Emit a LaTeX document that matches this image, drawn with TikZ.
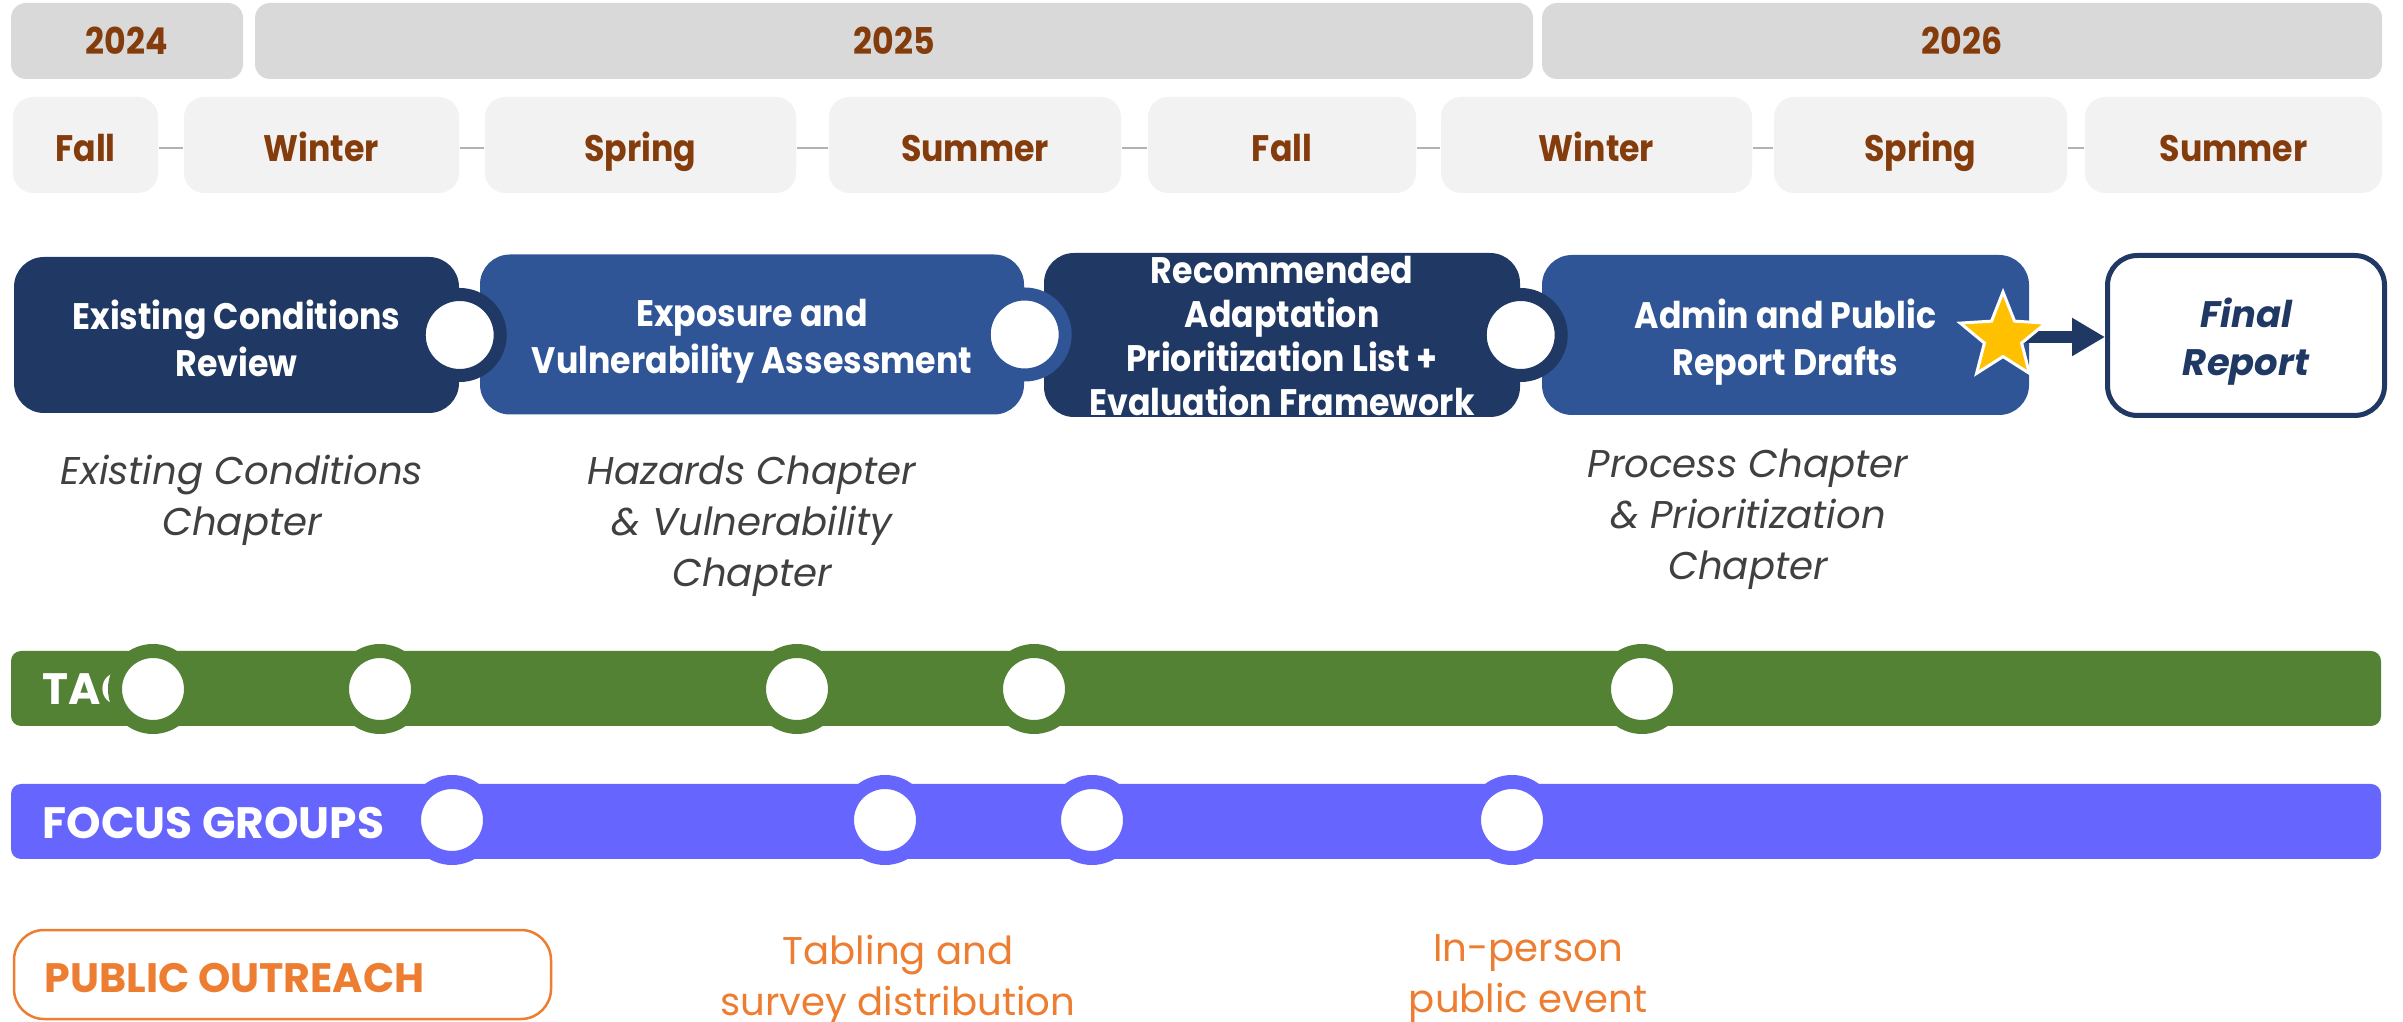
\documentclass[tikz,border=0pt]{standalone}
\usepackage{fontspec}
\setmainfont{Poppins}
\newfontfamily\narrowfont{Poppins}[FakeStretch=0.9]
\usetikzlibrary{shapes.geometric}
\usetikzlibrary{arrows.meta}
\definecolor{yeargray}{RGB}{217,217,217}
\definecolor{seasongray}{RGB}{242,242,242}
\definecolor{seasonbrown}{RGB}{132,60,12}
\definecolor{darknavy}{RGB}{32,56,100}
\definecolor{midblue}{RGB}{47,85,151}
\definecolor{chaptergray}{RGB}{64,64,64}
\definecolor{tacgreen}{RGB}{84,130,53}
\definecolor{focusblue}{RGB}{102,102,255}
\definecolor{outreachorange}{RGB}{237,125,49}
\definecolor{stargold}{RGB}{255,192,0}

\tikzset{
  yearbox/.style={fill=yeargray, rounded corners=1.5mm, minimum height=7.6mm,
    inner sep=0pt, text height=2.7mm, text depth=0pt, text=seasonbrown,
    font=\narrowfont\bfseries\fontsize{10.5}{12}\selectfont},
  seasonbox/.style={fill=seasongray, rounded corners=2mm, minimum height=9.6mm,
    inner sep=0pt, text height=3.3mm, text depth=0pt, text=seasonbrown,
    font=\narrowfont\bfseries\fontsize{10.5}{12}\selectfont},
  seasonline/.style={draw=black!30, line width=0.25mm},
  phasebox/.style={rounded corners=3mm, minimum height=16mm, inner sep=0pt},
  phasetxt/.style={text=white, align=center, inner sep=0pt,
    font=\narrowfont\bfseries\fontsize{10.5}{13.4}\selectfont},
  joint/.style={circle, draw=#1, fill=white, line width=1.3mm, minimum size=8.1mm, inner sep=0pt},
  chaptertxt/.style={text=chaptergray, align=center, font=\itshape\fontsize{11}{14.5}\selectfont},
  trackbar/.style={fill=#1, rounded corners=1mm, minimum width=237mm, minimum height=7.5mm, inner sep=0pt},
  tracklabel/.style={anchor=west, inner sep=0pt, text=white, font=\bfseries\fontsize{12.5}{15}\selectfont},
  milestone/.style={circle, draw=#1, fill=white, line width=1.4mm, minimum size=7.6mm, inner sep=0pt},
  outreachtxt/.style={text=outreachorange, align=center, font=\fontsize{11}{14.5}\selectfont}
}

\begin{document}
\begin{tikzpicture}[x=0.1mm,y=-0.1mm]
  \useasboundingbox (0,0) rectangle (2403,1022);

  % Years
  \node[yearbox, minimum width=23.2mm] (y2024) at (127,41) {2024};
  \node[yearbox, minimum width=127.8mm] (y2025) at (894,41) {2025};
  \node[yearbox, minimum width=84.0mm] (y2026) at (1962,41) {2026};

  % Seasons
  \node[seasonbox, minimum width=14.5mm] (fall24) at (85.5,145) {Fall};
  \node[seasonbox, minimum width=27.5mm] (win25) at (321.5,145) {Winter};
  \node[seasonbox, minimum width=31.1mm] (spr25) at (640.5,145) {Spring};
  \node[seasonbox, minimum width=29.2mm] (sum25) at (975,145) {Summer};
  \node[seasonbox, minimum width=26.8mm] (fall25) at (1282,145) {Fall};
  \node[seasonbox, minimum width=31.1mm] (win26) at (1596.5,145) {Winter};
  \node[seasonbox, minimum width=29.3mm] (spr26) at (1920.5,145) {Spring};
  \node[seasonbox, minimum width=29.7mm] (sum26) at (2233.5,145) {Summer};
  \foreach \a/\b in {fall24/win25, win25/spr25, spr25/sum25, sum25/fall25,
                     fall25/win26, win26/spr26, spr26/sum26}
    \draw[seasonline] ([yshift=-0.3mm]\a.east) -- ([yshift=-0.3mm]\b.west);

  % Phases
  \node[phasebox, fill=darknavy, minimum width=44.5mm, minimum height=15.6mm] (review) at (236.5,335) {};
  \node[phasebox, fill=midblue, minimum width=54.4mm] (exposure) at (752,334.5) {};
  \node[phasebox, fill=darknavy, minimum width=47.6mm, minimum height=16.4mm] (adaptation) at (1282,335) {};
  \node[phasebox, fill=midblue, minimum width=48.7mm] (drafts) at (1785.5,335) {};
  \node[phasebox, draw=darknavy, fill=white, line width=0.5mm, minimum width=27.7mm,
        minimum height=16mm] (final) at (2246,335.5) {};

  \node[phasetxt] (reviewtxt) at ([yshift=-0.3mm]review.center) {Existing Conditions\\Review};
  \node[phasetxt] (exposuretxt) at ([yshift=-0.7mm]exposure.center) {Exposure and\\Vulnerability Assessment};
  \node[phasetxt, font=\narrowfont\bfseries\fontsize{10.5}{12.6}\selectfont] (adaptationtxt)
    at ([yshift=-0.1mm]adaptation.center) {Recommended\\Adaptation\\Prioritization List +\\Evaluation Framework};
  \node[phasetxt] (draftstxt) at ([yshift=-0.7mm]drafts.center) {Admin and Public\\Report Drafts};
  \node[phasetxt, text=darknavy, font=\bfseries\itshape\fontsize{10.5}{13.8}\selectfont] (finaltxt)
    at ([yshift=-0.6mm]final.center) {Final\\Report};

  \node[joint=darknavy] (j1) at (review.east) {};
  \node[joint=midblue] (j2) at (exposure.east) {};
  \node[joint=darknavy] (j3) at (adaptation.east) {};

  % Star and arrow to the final report
  \coordinate (starpt) at (2003,337);
  \draw[darknavy, line width=1.2mm, -{Triangle[length=3.3mm, width=3.6mm]}] (starpt) -- (final.west |- starpt);
  \node[star, star points=5, star point ratio=2.3, fill=stargold, draw=white, line width=0.3mm,
        minimum size=9mm, inner sep=0pt] (prize) at (starpt) {};

  % Chapters
  \node[chaptertxt] (chreview) at (242,500) {Existing Conditions\\Chapter};
  \node[chaptertxt] (chhazard) at (752,526) {Hazards Chapter\\\& Vulnerability\\Chapter};
  \node[chaptertxt] (chprocess) at (1748,519) {Process Chapter\\\& Prioritization\\Chapter};

  % TAC
  \node[trackbar=tacgreen] (tac) at (1196,688.5) {};
  \node[tracklabel] (taclabel) at (42,689) {TAC};
  \foreach \x [count=\i] in {153,380,797,1034,1642}
    \node[milestone=tacgreen] (tac\i) at (\x,689) {};

  % Focus groups
  \node[trackbar=focusblue] (focus) at (1196,821.5) {};
  \node[tracklabel] (focuslabel) at (42,823) {FOCUS GROUPS};
  \foreach \x [count=\i] in {452,885,1092,1512}
    \node[milestone=focusblue] (focus\i) at (\x,820) {};

  % Public outreach
  \node[draw=outreachorange, fill=white, line width=0.25mm, rounded corners=3mm,
        minimum width=53.7mm, minimum height=8.9mm, inner sep=0pt] (outreach) at (282.5,974.5) {};
  \node[anchor=west, inner sep=0pt, text=outreachorange, font=\bfseries\fontsize{11.7}{15}\selectfont]
    (outreachlabel) at (44,978) {PUBLIC OUTREACH};
  \node[outreachtxt] (tabling) at (898,980) {Tabling and\\survey distribution};
  \node[outreachtxt] (inperson) at (1528,979) {In-person\\public event};
\end{tikzpicture}
\end{document}
